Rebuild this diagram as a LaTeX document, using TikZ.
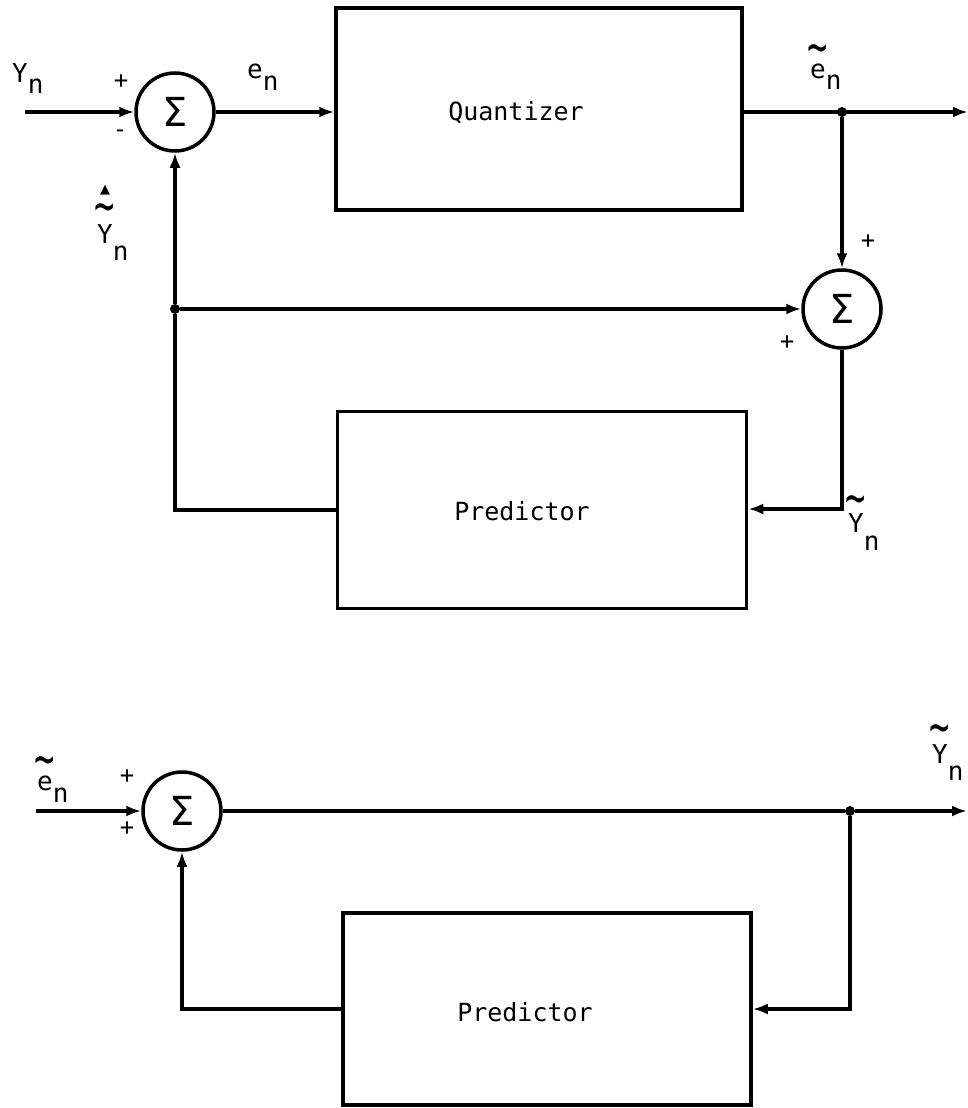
\documentclass[tikz,border=0pt]{standalone}
\usepackage{graphicx}
\usepackage{fontspec}
\setmonofont{DejaVu Sans Mono}
\newfontfamily\sigmafont{DejaVu Sans}
\usetikzlibrary{arrows.meta,positioning}

\tikzset{
  blockbox/.style={draw, line width=3.5pt, inner sep=0pt},
  boxtext/.style={font=\ttfamily\fontsize{25}{30}\selectfont, inner sep=0pt},
  sumnode/.style={draw, circle, line width=3.5pt, minimum size=78pt, inner sep=0pt,
    font=\sigmafont\fontsize{40}{40}\selectfont},
  wire/.style={line width=3.5pt},
  sig/.style={wire, -{Latex[length=15pt,width=11pt]}},
  lbl/.style={font=\ttfamily\fontsize{26}{30}\selectfont, inner sep=0pt, anchor=base west},
  sgn/.style={font=\ttfamily\fontsize{24}{28}\selectfont, inner sep=0pt},
  dot/.style={circle, fill, inner sep=0pt, minimum size=10pt},
}
% lowered subscript n, as typed on the original
\newcommand{\subn}[1]{\raisebox{-#1}{n}}
% tilde (and hat) set high over a letter
\newcommand{\tildeat}[2]{\ooalign{#2\cr\hidewidth\raisebox{#1}{\scalebox{1.3}[2]{\textasciitilde}}\hidewidth\cr}}
\newcommand{\hatat}[2]{\ooalign{#2\cr\hidewidth\raisebox{#1}{\sigmafont\fontsize{13}{13}\selectfont ▲}\hidewidth\cr}}

\begin{document}
\begin{tikzpicture}[x=1pt, y=-1pt]
  \useasboundingbox (0,0) rectangle (968,1108);

  % ---- encoder ----
  \coordinate (inA) at (25,112);
  \node[sumnode] (sumA) at (175,112) {Σ};
  \node[blockbox, minimum width=406pt, minimum height=202pt] (quant) at (539,109) {};
  \node[boxtext] (quantTxt) at (516,113) {Quantizer};
  \node[dot] (dA) at (842,112) {};
  \coordinate (outA) at (968,112);

  \node[sumnode] (sumB) at (842,309) {Σ};
  \node[dot] (dB) at (175,309) {};

  \node[blockbox, minimum width=409pt, minimum height=197pt] (predA) at (542,510) {};
  \node[boxtext] (predATxt) at (522,511) {Predictor};
  \coordinate (cA) at (842,509);

  % connectors
  \draw[sig] (inA) -- (sumA.west);
  \draw[sig] (sumA.east) -- (sumA.east -| quant.west);
  \draw[sig] (dA -| quant.east) -- (outA);
  \draw[sig] (dA) -- (sumB.north);
  \draw[sig] (dB) -- (sumB.west);
  \draw[sig] (dB) -- (sumA.south);
  \draw[sig] (sumB.south) -- (cA) -- (cA -| predA.east);
  \draw[wire] (predA.west) -- (predA.west -| dB) -- (dB);

  % labels
  \node[lbl] (lYn) at (12,82) {Y\subn{11pt}};
  \node[lbl] (len) at (247,78) {e\subn{12pt}};
  \node[lbl] (leA) at (810,78) {\tildeat{14pt}{e}\subn{11pt}};
  \node[lbl] (lYhat) at (97,243) {\hatat{50pt}{\tildeat{20pt}{Y}}\subn{17pt}};
  \node[lbl] (lYA) at (848,532) {\tildeat{17pt}{Y}\subn{18pt}};
  \node[sgn] (pA) at (121,82) {+};
  \node[sgn] (mA) at (120,134) {-};
  \node[sgn] (pB1) at (868,242) {+};
  \node[sgn] (pB2) at (787,343) {+};

  % ---- decoder ----
  \coordinate (inC) at (36,811);
  \node[sumnode] (sumC) at (182,811) {Σ};
  \node[dot] (dC) at (850,811) {};
  \coordinate (outC) at (967,811);
  \node[blockbox, minimum width=408pt, minimum height=192pt] (predB) at (547,1009) {};
  \node[boxtext] (predBTxt) at (525,1012) {Predictor};

  \draw[sig] (inC) -- (sumC.west);
  \draw[wire] (sumC.east) -- (dC);
  \draw[sig] (dC) -- (outC);
  \draw[sig] (dC) -- (dC |- predB.east) -- (predB.east);
  \draw[sig] (predB.west) -- (predB.west -| sumC) -- (sumC.south);

  \node[lbl] (leC) at (37,790) {\tildeat{14pt}{e}\subn{12pt}};
  \node[lbl] (lYC) at (932,763) {\tildeat{19pt}{Y}\subn{17pt}};
  \node[sgn] (pC1) at (127,777) {+};
  \node[sgn] (pC2) at (127,829) {+};
\end{tikzpicture}
\end{document}
